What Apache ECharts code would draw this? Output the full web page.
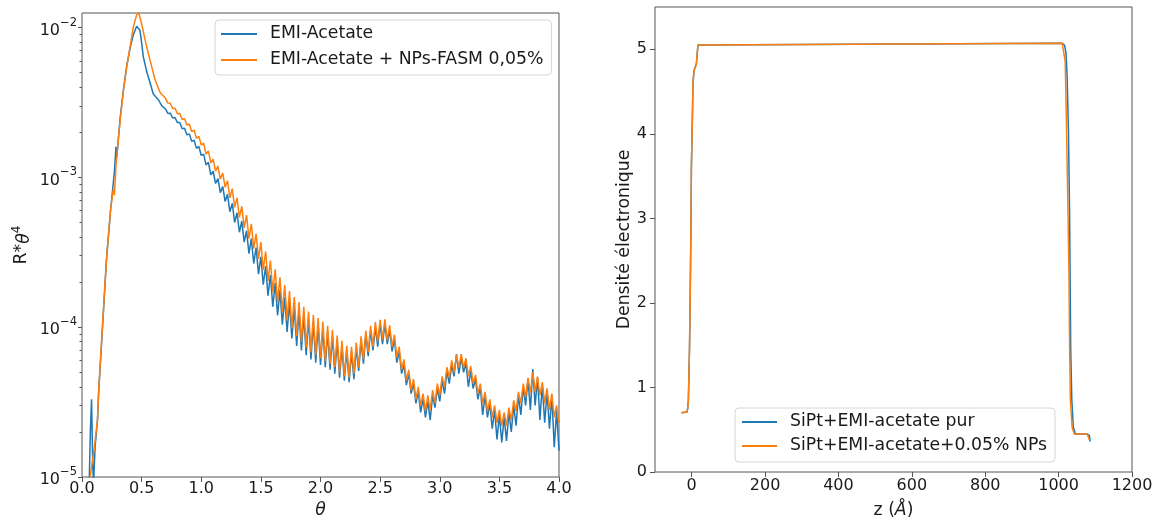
<!DOCTYPE html>
<html><head><meta charset="utf-8">
<script src="https://cdn.jsdelivr.net/npm/echarts@6/dist/echarts.min.js"></script>
<style>html,body{margin:0;padding:0;background:#fff}#c{width:1157px;height:519px}</style>
</head><body><div id="c"></div>
<script>
// ---------- Left panel: reflectivity R*theta^4 ----------
const thetaEarlyBlue = [0.060,0.070,0.080,0.090,0.097,0.110,0.130,0.140,0.165,0.190,0.205,0.240,0.262,0.272,0.285,0.292,0.320,0.347,0.375,0.403,0.430,0.458,0.472,0.486,0.500,0.514,0.542,0.570,0.598,0.640,0.670];
const blueEarly = [9.0e-6,2.0e-5,3.3e-5,1.2e-5,9.0e-6,1.6e-5,2.4e-5,3.7e-5,8.0e-5,1.75e-4,2.8e-4,6.1e-4,9.1e-4,1.1e-3,1.6e-3,1.37e-3,2.5e-3,3.8e-3,5.5e-3,7.3e-3,8.9e-3,1.02e-2,1.05e-2,9.6e-3,7.9e-3,6.4e-3,5.1e-3,4.3e-3,3.6e-3,3.3e-3,3.0e-3];
const thetaEarlyOrange = [0.068,0.100,0.130,0.140,0.165,0.190,0.205,0.240,0.262,0.272,0.285,0.320,0.347,0.375,0.403,0.430,0.458,0.475,0.500,0.530,0.556,0.584,0.612,0.654];
const orangeEarly = [1.0e-5,1.5e-5,2.4e-5,3.8e-5,8.3e-5,1.8e-4,2.8e-4,6.1e-4,8.3e-4,7.6e-4,1.2e-3,2.4e-3,3.8e-3,5.5e-3,7.4e-3,1.01e-2,1.21e-2,1.26e-2,1.06e-2,8.2e-3,6.7e-3,5.5e-3,4.5e-3,3.7e-3];

const thetaOsc = [
0.70,0.72,0.74,0.76,0.78,0.80,0.82,0.84,0.86,0.88,
0.90,0.92,0.94,0.96,0.98,1.00,1.02,1.04,1.06,1.08,
1.10,1.12,1.14,1.16,1.18,1.20,1.22,1.24,1.26,1.28,
1.30,1.32,1.34,1.36,1.38,1.40,1.42,1.44,1.46,1.48,
1.50,1.52,1.54,1.56,1.58,1.60,1.62,1.64,1.66,1.68,
1.70,1.72,1.74,1.76,1.78,1.80,1.82,1.84,1.86,1.88,
1.90,1.92,1.94,1.96,1.98,2.00,2.02,2.04,2.06,2.08,
2.10,2.12,2.14,2.16,2.18,2.20,2.22,2.24,2.26,2.28,
2.30,2.32,2.34,2.36,2.38,2.40,2.42,2.44,2.46,2.48,
2.50,2.52,2.54,2.56,2.58,2.60,2.62,2.64,2.66,2.68,
2.70,2.72,2.74,2.76,2.78,2.80,2.82,2.84,2.86,2.88,
2.90,2.92,2.94,2.96,2.98,3.00,3.02,3.04,3.06,3.08,
3.10,3.12,3.14,3.16,3.18,3.20,3.22,3.24,3.26,3.28,
3.30,3.32,3.34,3.36,3.38,3.40,3.42,3.44,3.46,3.48,
3.50,3.52,3.54,3.56,3.58,3.60,3.62,3.64,3.66,3.68,
3.70,3.72,3.74,3.76,3.78,3.80,3.82,3.84,3.86,3.88,
3.90,3.92,3.94,3.96,3.98,4.00];

const orangeOsc = [
3.37e-3,3.13e-3,3.12e-3,2.88e-3,2.89e-3,2.66e-3,2.67e-3,2.43e-3,2.46e-3,2.23e-3,
2.27e-3,2.02e-3,2.07e-3,1.82e-3,1.88e-3,1.64e-3,1.69e-3,1.43e-3,1.50e-3,1.25e-3,
1.32e-3,1.10e-3,1.19e-3,9.7e-4,1.07e-3,8.6e-4,9.5e-4,7.3e-4,8.4e-4,6.3e-4,
7.3e-4,5.4e-4,6.4e-4,4.6e-4,5.6e-4,3.9e-4,4.9e-4,3.35e-4,4.2e-4,2.85e-4,
3.7e-4,2.41e-4,3.2e-4,2.03e-4,2.78e-4,1.71e-4,2.43e-4,1.47e-4,2.15e-4,1.26e-4,
1.91e-4,1.11e-4,1.74e-4,9.8e-5,1.59e-4,8.7e-5,1.47e-4,8.0e-5,1.37e-4,7.3e-5,
1.27e-4,6.8e-5,1.21e-4,6.5e-5,1.15e-4,6.2e-5,1.09e-4,5.9e-5,1.02e-4,5.7e-5,
9.6e-5,5.4e-5,8.8e-5,5.0e-5,8.1e-5,4.7e-5,7.5e-5,4.6e-5,7.4e-5,4.9e-5,
7.9e-5,5.4e-5,8.7e-5,6.1e-5,9.5e-5,6.8e-5,1.02e-4,7.4e-5,1.08e-4,8.0e-5,
1.12e-4,8.3e-5,1.13e-4,8.2e-5,1.03e-4,7.4e-5,8.9e-5,6.3e-5,7.4e-5,5.2e-5,
6.1e-5,4.4e-5,5.2e-5,3.8e-5,4.5e-5,3.3e-5,4.0e-5,3.0e-5,3.6e-5,2.75e-5,
3.5e-5,2.8e-5,3.8e-5,3.1e-5,4.2e-5,3.5e-5,4.7e-5,4.0e-5,5.4e-5,4.6e-5,
6.0e-5,5.0e-5,6.5e-5,5.4e-5,6.6e-5,5.4e-5,6.2e-5,4.7e-5,5.5e-5,4.2e-5,
4.8e-5,3.6e-5,4.2e-5,3.1e-5,3.7e-5,2.75e-5,3.3e-5,2.5e-5,3.0e-5,2.3e-5,
2.8e-5,2.2e-5,2.7e-5,2.2e-5,2.9e-5,2.4e-5,3.25e-5,2.75e-5,3.7e-5,3.1e-5,
4.2e-5,3.4e-5,4.6e-5,3.65e-5,5.0e-5,3.7e-5,4.7e-5,3.5e-5,4.3e-5,3.1e-5,
3.9e-5,2.8e-5,3.6e-5,2.5e-5,3.0e-5,2.3e-5];

const blueOsc = [
2.86e-3,2.67e-3,2.68e-3,2.49e-3,2.51e-3,2.32e-3,2.32e-3,2.11e-3,2.13e-3,1.92e-3,
1.95e-3,1.74e-3,1.77e-3,1.56e-3,1.61e-3,1.40e-3,1.43e-3,1.21e-3,1.26e-3,1.04e-3,
1.10e-3,9.1e-4,9.8e-4,7.9e-4,8.7e-4,6.9e-4,7.7e-4,5.9e-4,6.7e-4,5.0e-4,
5.8e-4,4.3e-4,5.1e-4,3.7e-4,4.4e-4,3.1e-4,3.9e-4,2.66e-4,3.4e-4,2.26e-4,
2.95e-4,1.92e-4,2.56e-4,1.62e-4,2.23e-4,1.37e-4,1.97e-4,1.20e-4,1.77e-4,1.04e-4,
1.58e-4,9.3e-5,1.47e-4,8.4e-5,1.36e-4,7.5e-5,1.27e-4,7.0e-5,1.20e-4,6.5e-5,
1.14e-4,6.1e-5,1.08e-4,5.8e-5,1.04e-4,5.6e-5,9.8e-5,5.4e-5,9.3e-5,5.2e-5,
8.7e-5,4.9e-5,8.1e-5,4.6e-5,7.4e-5,4.4e-5,7.0e-5,4.3e-5,6.8e-5,4.5e-5,
7.3e-5,5.1e-5,8.1e-5,5.7e-5,8.9e-5,6.4e-5,9.5e-5,7.0e-5,1.00e-4,7.4e-5,
1.05e-4,7.7e-5,1.05e-4,7.7e-5,9.6e-5,6.9e-5,8.3e-5,5.8e-5,6.9e-5,4.9e-5,
5.6e-5,4.1e-5,4.9e-5,3.6e-5,4.2e-5,3.1e-5,3.7e-5,2.7e-5,3.35e-5,2.5e-5,
3.2e-5,2.4e-5,3.5e-5,2.9e-5,3.9e-5,3.2e-5,4.4e-5,3.6e-5,5.1e-5,4.2e-5,
5.6e-5,4.7e-5,6.6e-5,4.9e-5,6.3e-5,5.0e-5,5.75e-5,4.0e-5,5.1e-5,3.9e-5,
4.5e-5,3.3e-5,4.0e-5,2.6e-5,3.5e-5,2.5e-5,3.1e-5,2.1e-5,2.8e-5,1.78e-5,
2.6e-5,1.70e-5,2.5e-5,1.74e-5,2.7e-5,2.0e-5,3.0e-5,2.2e-5,3.5e-5,2.6e-5,
4.0e-5,3.0e-5,4.5e-5,2.8e-5,5.25e-5,3.0e-5,4.6e-5,2.4e-5,4.1e-5,2.3e-5,
3.7e-5,2.1e-5,3.5e-5,1.58e-5,2.75e-5,1.5e-5];

const leftXTicks = [0, 0.5, 1.0, 1.5, 2.0, 2.5, 3.0, 3.5, 4.0];
const leftYTicks = [1e-5, 1e-4, 1e-3, 1e-2];
const leftYMinorTicks = [2e-5,3e-5,4e-5,5e-5,6e-5,7e-5,8e-5,9e-5,2e-4,3e-4,4e-4,5e-4,6e-4,7e-4,8e-4,9e-4,2e-3,3e-3,4e-3,5e-3,6e-3,7e-3,8e-3,9e-3];

// ---------- Right panel: electron density profile ----------
const zBlue = [-28,-13,-11,-9,-6,-4,-2,-0.8,1.9,3.6,6.4,12.8,17,20,1010,1016,1020,1023,1027,1030,1033,1036,1040,1046,1078,1080,1084,1086];
const densBlue = [0.70,0.71,0.75,0.85,1.45,2.1,2.9,3.6,4.2,4.6,4.75,4.83,5.05,5.07,5.07,5.05,4.96,4.7,4.0,3.0,1.45,0.85,0.53,0.45,0.45,0.43,0.43,0.36];
const zOrange = [-28,-13,-11,-9,-6,-4,-2,-0.8,1.9,3.6,6.4,12.8,17,20,1010,1015,1018,1021,1025,1028,1030,1032,1037,1043,1078,1080,1083,1084];
const densOrange = [0.70,0.71,0.75,0.85,1.45,2.1,2.9,3.6,4.2,4.6,4.75,4.83,5.05,5.07,5.07,5.05,4.85,4.2,3.2,2.4,1.45,0.85,0.52,0.45,0.45,0.44,0.43,0.38];
const rightXTicks = [0, 200, 400, 600, 800, 1000, 1200];
const rightYTicks = [0, 1, 2, 3, 4, 5];

const seriesNames = ['EMI-Acetate', 'EMI-Acetate + NPs-FASM 0,05%', 'SiPt+EMI-acetate pur', 'SiPt+EMI-acetate+0.05% NPs'];

// ---------- build ----------
const pairs = (xs, ys) => xs.map((x, i) => [x, ys[i]]);
const FONT = 'DejaVu Sans';
const TXT = '#1a1a1a';
const AX = '#555';
const BLUE = '#1f77b4', ORANGE = '#ff7f0e';
const BIG = 17.3;

const labelStyle = {fontFamily: FONT, fontSize: 16, color: TXT};
const tickStyle = {lineStyle: {color: AX, width: 1}};
const legendBase = {
  orient: 'vertical', icon: 'rect', itemWidth: 36, itemHeight: 2,
  backgroundColor: 'rgba(255,255,255,0.85)', borderColor: '#d6d6d6', borderWidth: 1, borderRadius: 4,
  textStyle: {fontFamily: FONT, fontSize: BIG, color: TXT, lineHeight: 18, padding: [0, 0, 0, 8]}
};

const chart = echarts.init(document.getElementById('c'), null, {renderer: 'canvas'});
chart.setOption({
  animation: false,
  backgroundColor: '#fff',
  grid: [
    {left: 82, top: 13, width: 477, height: 464, show: true, borderColor: AX, borderWidth: 1,
     backgroundColor: 'transparent', containLabel: false, outerBoundsMode: 'none'},
    {left: 655, top: 7, width: 477, height: 465, show: true, borderColor: AX, borderWidth: 1,
     backgroundColor: 'transparent', containLabel: false, outerBoundsMode: 'none'}
  ],
  legend: [
    Object.assign({}, legendBase, {data: [seriesNames[0], seriesNames[1]], left: 215, top: 20,
      padding: [5, 8, 6, 6], itemGap: 8}),
    Object.assign({}, legendBase, {data: [seriesNames[2], seriesNames[3]], left: 735, top: 408,
      padding: [5, 8, 7, 7], itemGap: 6, itemWidth: 35})
  ],
  xAxis: [
    {type: 'value', gridIndex: 0, min: 0, max: 4,
     axisLine: {show: false, onZero: false}, splitLine: {show: false},
     axisTick: {show: true, length: 5, customValues: leftXTicks, ...tickStyle},
     axisLabel: {...labelStyle, margin: 4, customValues: leftXTicks, formatter: v => v.toFixed(1)},
     name: 'θ', nameLocation: 'middle', nameGap: 23,
     nameTextStyle: {fontFamily: FONT, fontSize: BIG, color: TXT, fontStyle: 'italic'}},
    {type: 'value', gridIndex: 1, min: -100, max: 1200,
     axisLine: {show: false, onZero: false}, splitLine: {show: false},
     axisTick: {show: true, length: 5, customValues: rightXTicks, ...tickStyle},
     axisLabel: {...labelStyle, margin: 6, customValues: rightXTicks, formatter: v => String(v)},
     name: 'z ({i|Å})', nameLocation: 'middle', nameGap: 30,
     nameTextStyle: {fontFamily: FONT, fontSize: BIG, color: TXT,
       rich: {i: {fontFamily: FONT, fontSize: BIG, color: TXT, fontStyle: 'italic'}}}}
  ],
  yAxis: [
    {type: 'log', logBase: 10, gridIndex: 0, min: 1e-5, max: 0.0125,
     axisLine: {show: false, onZero: false}, splitLine: {show: false},
     axisTick: {show: true, length: 4, customValues: leftYTicks, ...tickStyle},
     axisLabel: {...labelStyle, margin: 5, customValues: leftYTicks,
       formatter: v => '{b|10}{s|\u2212' + Math.abs(Math.round(Math.log10(v))) + '}',
       rich: {
         b: {fontFamily: FONT, fontSize: 16, color: TXT, lineHeight: 22, verticalAlign: 'bottom'},
         s: {fontFamily: FONT, fontSize: 11.5, color: TXT, lineHeight: 12, verticalAlign: 'top'}
       }},
     name: 'R*{i|θ}{s|4}', nameLocation: 'middle', nameGap: 49, nameRotate: 90,
     nameTextStyle: {fontFamily: FONT, fontSize: BIG, color: TXT, lineHeight: 22, verticalAlign: 'bottom',
       rich: {i: {fontFamily: FONT, fontSize: BIG, color: TXT, fontStyle: 'italic', lineHeight: 22, verticalAlign: 'bottom'},
              s: {fontFamily: FONT, fontSize: 12, color: TXT, lineHeight: 12, verticalAlign: 'top'}}}},
    {type: 'log', logBase: 10, gridIndex: 0, min: 1e-5, max: 0.0125, position: 'left',
     axisLine: {show: false, onZero: false}, splitLine: {show: false}, axisLabel: {show: false},
     axisTick: {show: true, length: 2.5, customValues: leftYMinorTicks, ...tickStyle}},
    {type: 'value', gridIndex: 1, min: 0, max: 5.5,
     axisLine: {show: false, onZero: false}, splitLine: {show: false},
     axisTick: {show: true, length: 5, customValues: rightYTicks, ...tickStyle},
     axisLabel: {...labelStyle, margin: 8, customValues: rightYTicks},
     name: 'Densité électronique', nameLocation: 'middle', nameGap: 20, nameRotate: 90,
     nameTextStyle: {fontFamily: FONT, fontSize: BIG, color: TXT}}
  ],
  series: [
    {type: 'line', name: seriesNames[0], xAxisIndex: 0, yAxisIndex: 0, symbol: 'none', showSymbol: false,
     data: pairs(thetaEarlyBlue, blueEarly).concat(pairs(thetaOsc, blueOsc)),
     lineStyle: {color: BLUE, width: 1.5}, itemStyle: {color: BLUE}},
    {type: 'line', name: seriesNames[1], xAxisIndex: 0, yAxisIndex: 0, symbol: 'none', showSymbol: false,
     data: pairs(thetaEarlyOrange, orangeEarly).concat(pairs(thetaOsc, orangeOsc)),
     lineStyle: {color: ORANGE, width: 1.5}, itemStyle: {color: ORANGE}},
    {type: 'line', name: seriesNames[2], xAxisIndex: 1, yAxisIndex: 2, symbol: 'none', showSymbol: false,
     data: pairs(zBlue, densBlue),
     lineStyle: {color: BLUE, width: 1.5}, itemStyle: {color: BLUE}},
    {type: 'line', name: seriesNames[3], xAxisIndex: 1, yAxisIndex: 2, symbol: 'none', showSymbol: false,
     data: pairs(zOrange, densOrange),
     lineStyle: {color: ORANGE, width: 1.5}, itemStyle: {color: ORANGE}}
  ]
});
</script></body></html>
